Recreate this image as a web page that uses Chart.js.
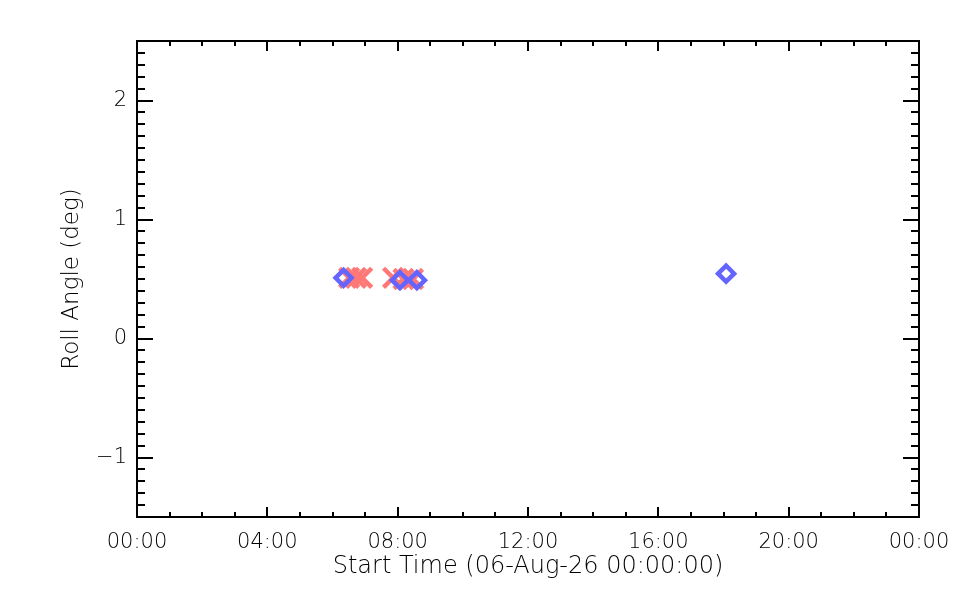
<!DOCTYPE html>
<html>
<head>
<meta charset="utf-8">
<script src="https://cdn.jsdelivr.net/npm/chart.js@4/dist/chart.umd.min.js"></script>
<style>
  html, body { margin: 0; padding: 0; background: #fff; }
  #wrap { width: 960px; height: 600px; }
</style>
</head>
<body>
<div id="wrap"><canvas id="roll-chart" width="960" height="600"></canvas></div>
<script>
// Ejes
const xTicks = [0, 4, 8, 12, 16, 20, 24];
const xTickLabels = ['00:00', '04:00', '08:00', '12:00', '16:00', '20:00', '00:00'];
const yTicks = [-1, 0, 1, 2];
const yTickLabels = ['\u22121', '0', '1', '2'];

// Datos (horas desde 06-Aug-26 00:00, grados)
const crossHours = [6.51, 6.72, 6.91, 7.86, 8.18, 8.47];
const crossRoll = [0.51, 0.51, 0.51, 0.51, 0.50, 0.50];
const diamondHours = [6.34, 8.07, 8.59, 18.08];
const diamondRoll = [0.51, 0.49, 0.49, 0.545];

const fuente = { family: 'DejaVu Sans', size: 21, weight: 200 };

// Caja y marcas estilo IDL
const cajaPlugin = {
    id: 'caja',
    afterDraw(chart) {
        const { ctx, chartArea: a, scales: { x, y } } = chart;
        ctx.save();
        ctx.strokeStyle = '#000';
        ctx.lineWidth = 2;
        ctx.strokeRect(a.left, a.top, a.right - a.left, a.bottom - a.top);
        ctx.beginPath();
        for (let h = 0; h <= 24; h++) {
            const px = Math.round(x.getPixelForValue(h));
            const len = h % 4 === 0 ? 10 : 5;
            ctx.moveTo(px, a.bottom); ctx.lineTo(px, a.bottom - len);
            ctx.moveTo(px, a.top); ctx.lineTo(px, a.top + len);
        }
        for (let k = -15; k <= 25; k++) {
            const py = Math.round(y.getPixelForValue(k / 10));
            const len = k % 10 === 0 ? 16 : 8;
            ctx.moveTo(a.left, py); ctx.lineTo(a.left + len, py);
            ctx.moveTo(a.right, py); ctx.lineTo(a.right - len, py);
        }
        ctx.stroke();
        ctx.restore();
    }
};

const ctx = document.getElementById('roll-chart').getContext('2d');
new Chart(ctx, {
    type: 'scatter',
    data: {
        datasets: [
            {
                label: 'diamantes',
                data: diamondHours.map((h, i) => ({ x: h, y: diamondRoll[i] })),
                pointStyle: 'rectRot',
                pointRadius: 8,
                pointBorderWidth: 4.5,
                borderColor: 'rgb(100, 100, 255)',
                backgroundColor: 'rgba(0,0,0,0)'
            },
            {
                label: 'cruces',
                data: crossHours.map((h, i) => ({ x: h, y: crossRoll[i] })),
                pointStyle: 'crossRot',
                pointRadius: 13.5,
                pointBorderWidth: 4.5,
                borderColor: 'rgb(255, 120, 120)',
                backgroundColor: 'rgb(255, 120, 120)'
            }
        ]
    },
    options: {
        responsive: false,
        animation: false,
        devicePixelRatio: 1,
        layout: { padding: { top: 41, right: 41, left: 0, bottom: 0 } },
        plugins: { legend: { display: false }, tooltip: { enabled: false } },
        scales: {
            x: {
                type: 'linear',
                min: 0,
                max: 24,
                afterBuildTicks: s => { s.ticks = xTicks.map(v => ({ value: v })); },
                afterFit: s => { s.height = 83; s.paddingLeft = 0; s.paddingRight = 0; },
                grid: { display: false, drawTicks: false },
                border: { display: false },
                ticks: {
                    autoSkip: false,
                    maxRotation: 0,
                    padding: 13,
                    color: '#000',
                    font: fuente,
                    callback: (v, i) => xTickLabels[i]
                },
                title: {
                    display: true,
                    text: 'Start Time (06-Aug-26 00:00:00)',
                    color: '#000',
                    font: { family: 'DejaVu Sans', size: 24, weight: 200 },
                    padding: { top: 0, bottom: 19 }
                }
            },
            y: {
                type: 'linear',
                min: -1.5,
                max: 2.5,
                afterBuildTicks: s => { s.ticks = yTicks.map(v => ({ value: v })); },
                afterFit: s => { s.width = 137; s.paddingTop = 0; s.paddingBottom = 0; },
                grid: { display: false, drawTicks: false },
                border: { display: false },
                ticks: {
                    autoSkip: false,
                    padding: 10,
                    color: '#000',
                    font: fuente,
                    callback: (v, i) => yTickLabels[i]
                },
                title: {
                    display: true,
                    text: 'Roll Angle (deg)',
                    color: '#000',
                    font: { family: 'DejaVu Sans', size: 23, weight: 200 },
                    padding: { top: 58, bottom: 0 }
                }
            }
        }
    },
    plugins: [cajaPlugin]
});
</script>
</body>
</html>
